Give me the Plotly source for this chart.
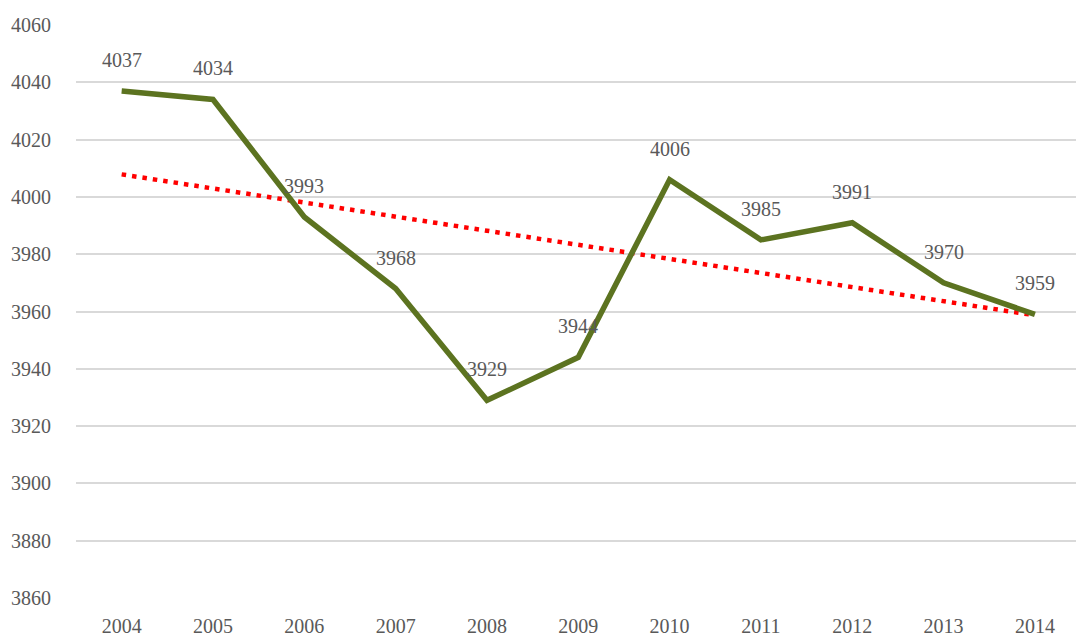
import numpy as np
import plotly.graph_objects as go

years = ["2004", "2005", "2006", "2007", "2008", "2009", "2010", "2011", "2012", "2013", "2014"]
values = [4037, 4034, 3993, 3968, 3929, 3944, 4006, 3985, 3991, 3970, 3959]

idx = np.arange(len(values))
slope, intercept = np.polyfit(idx, values, 1)
trend = slope * idx + intercept

FONT = "Liberation Serif"
GREY = "#595959"

fig = go.Figure()
fig.add_trace(go.Scatter(x=idx, y=trend, mode="lines",
                         line=dict(color="#FF0000", width=4.5, dash="4.5px,6px"),
                         hoverinfo="skip"))
fig.add_trace(go.Scatter(x=idx, y=values, mode="lines",
                         line=dict(color="#5C7320", width=5.5)))

for i, v in enumerate(values):
    fig.add_annotation(x=i, y=v, text=str(v), showarrow=False, yshift=31,
                       font=dict(family=FONT, size=20, color=GREY))

fig.update_layout(
    width=1076, height=637,
    margin=dict(l=76, r=0, t=25, b=37),
    paper_bgcolor="white", plot_bgcolor="white",
    showlegend=False,
    font=dict(family=FONT, size=20, color=GREY),
)
fig.update_xaxes(range=[-0.5, 10.45], tickmode="array", tickvals=idx, ticktext=years,
                 showgrid=False, zeroline=False, showline=False,
                 ticks="outside", ticklen=10, tickcolor="rgba(0,0,0,0)")
fig.update_yaxes(range=[3860, 4060], dtick=20, showgrid=True, gridcolor="#D9D9D9",
                 gridwidth=1.5, zeroline=False, showline=False,
                 ticks="outside", ticklen=20, tickcolor="rgba(0,0,0,0)")

fig.write_html("out.html", config={"displayModeBar": False},
               post_script="document.body.style.margin='0';document.body.style.overflow='hidden';")
